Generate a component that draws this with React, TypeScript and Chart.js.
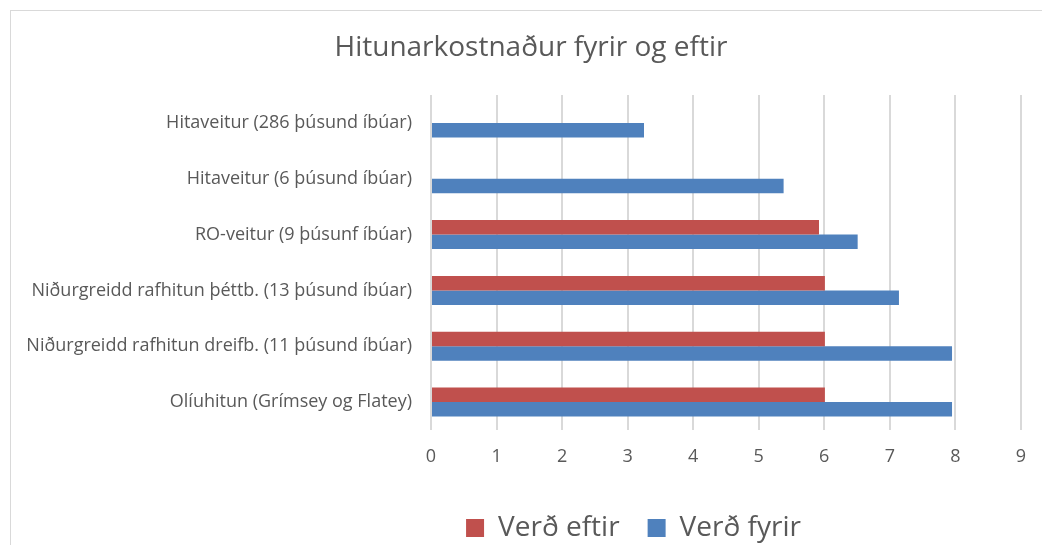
import React, { useEffect, useRef } from "react";
import { Chart, registerables } from "chart.js";

Chart.register(...registerables);

const categories = [
  "Hitaveitur (286 þúsund íbúar)",
  "Hitaveitur (6 þúsund íbúar)",
  "RO-veitur (9 þúsunf íbúar)",
  "Niðurgreidd rafhitun þéttb. (13 þúsund íbúar)",
  "Niðurgreidd rafhitun dreifb. (11 þúsund íbúar)",
  "Olíuhitun (Grímsey og Flatey)",
];
const verdEftir = [null, null, 5.92, 6.01, 6.01, 6.01];
const verdFyrir = [3.25, 5.38, 6.51, 7.14, 7.95, 7.95];
const xTicks = [0, 1, 2, 3, 4, 5, 6, 7, 8, 9];

const FONT = "'Open Sans', sans-serif";
const TEXT = "#595959";

const boxShift = {
  id: "boxShift",
  afterLayout(chart: any) {
    const lg = chart.legend;
    if (lg) {
      lg.left += 122;
      lg.right += 122;
    }
    const t = chart.titleBlock;
    if (t) {
      t.left += 19.5;
      t.right += 19.5;
    }
  },
};

export default function App() {
  const ref = useRef<HTMLCanvasElement | null>(null);
  useEffect(() => {
    document.body.style.overflow = "hidden";
    const chart = new Chart(ref.current!, {
      type: "bar",
      data: {
        labels: categories,
        datasets: [
          { label: "Verð eftir", data: verdEftir, backgroundColor: "#C0504D" },
          { label: "Verð fyrir", data: verdFyrir, backgroundColor: "#4F81BD" },
        ],
      },
      plugins: [boxShift],
      options: {
        indexAxis: "y",
        animation: false,
        responsive: false,
        datasets: { bar: { categoryPercentage: 0.52, barPercentage: 1.0 } },
        layout: { padding: { left: 0, right: 19, top: 0, bottom: 8 } },
        plugins: {
          title: {
            display: true,
            text: "Hitunarkostnaður fyrir og eftir",
            color: TEXT,
            font: { family: FONT, size: 28, weight: "normal" },
            padding: { top: 31, bottom: 30.4 },
          },
          legend: {
            position: "bottom",
            labels: {
              color: TEXT,
              font: { family: FONT, size: 28 },
              boxWidth: 18,
              boxHeight: 18,
              padding: 28,
            },
          },
          tooltip: { enabled: false },
        },
        scales: {
          x: {
            min: 0,
            max: 9,
            afterBuildTicks: (s: any) => {
              s.ticks = xTicks.map((v) => ({ value: v }));
            },
            grid: { color: "#d9d9d9", lineWidth: 2, drawTicks: false },
            border: { display: false },
            ticks: { color: TEXT, font: { family: FONT, size: 18 }, padding: 16 },
            afterFit: (s: any) => {
              s.height = 56;
            },
          },
          y: {
            grid: { display: false, drawTicks: false },
            border: { display: false },
            ticks: { color: TEXT, font: { family: FONT, size: 18 }, padding: 19 },
            afterFit: (s: any) => {
              s.width = 431;
            },
          },
        },
      },
    });
    return () => chart.destroy();
  }, []);
  return (
    <>
      <div
        style={{
          position: "fixed",
          left: 10,
          top: 10,
          width: 1200,
          height: 700,
          borderTop: "1px solid #d9d9d9",
          borderLeft: "1px solid #d9d9d9",
        }}
      />
      <div style={{ position: "fixed", left: 0, top: 0, width: 1042, height: 560 }}>
        <canvas ref={ref} width={1042} height={560} />
      </div>
    </>
  );
}
